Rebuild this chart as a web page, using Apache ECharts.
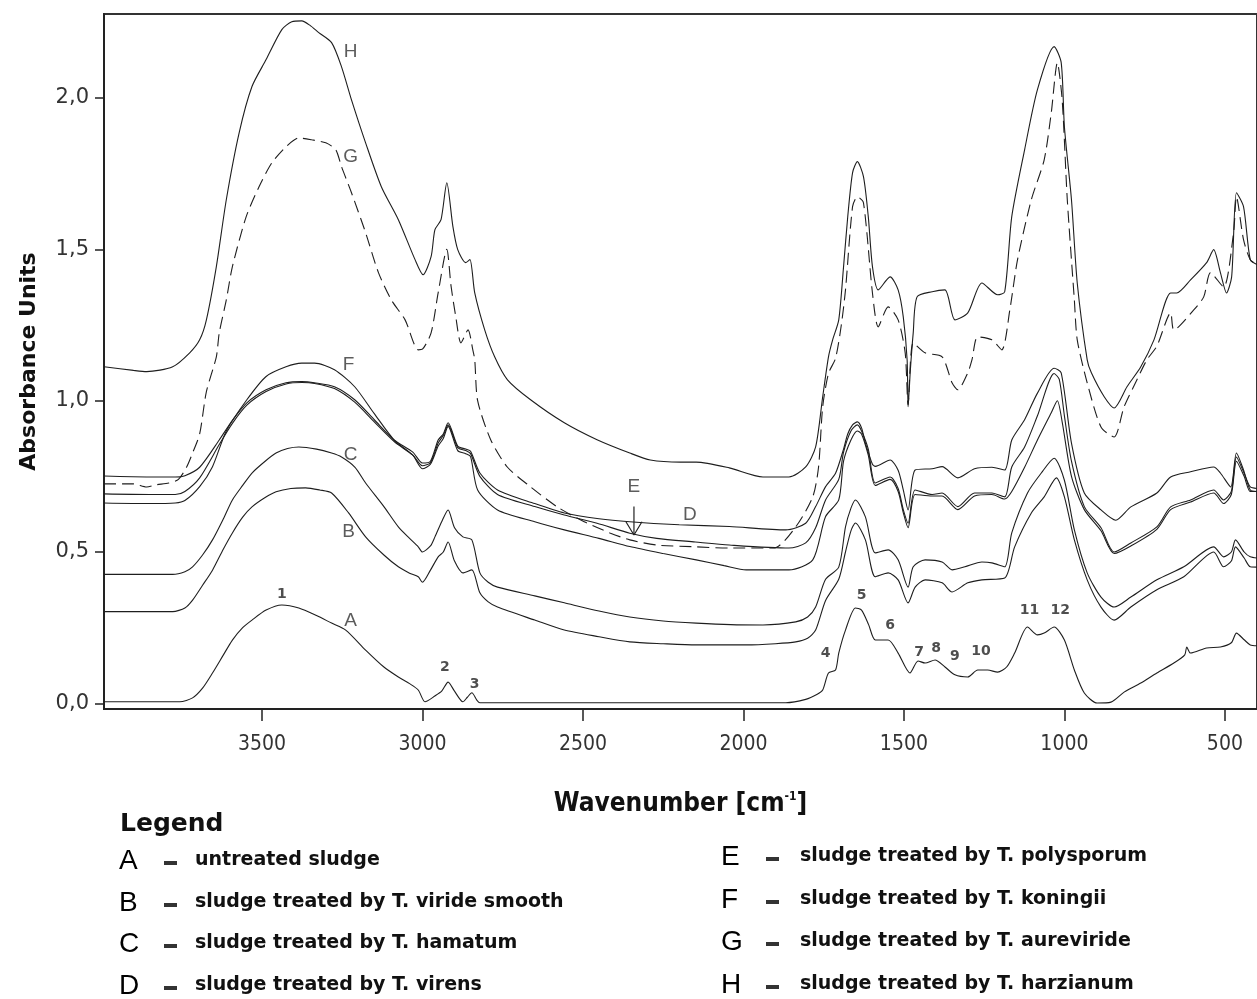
<!DOCTYPE html>
<html><head><meta charset="utf-8">
<script src="https://cdn.jsdelivr.net/npm/echarts@6/dist/echarts.min.js"></script>
<style>html,body{margin:0;padding:0;background:#fff}#c{width:1257px;height:999px}</style>
</head><body><div id="c"></div>
<script>
// ---- axis ticks ----
const xTicks = [3500, 3000, 2500, 2000, 1500, 1000, 500];
const yTicks = [0, 0.5, 1.0, 1.5, 2.0];

// ---- spectra: [wavenumber cm-1, absorbance] ----
const curveA = [[3992,0.005],[3850,0.005],[3756,0.005],[3716,0.018],[3685,0.05],[3654,0.10],[3620,0.16],[3592,0.209],[3560,0.25],[3531,0.275],[3487,0.308],[3438,0.325],[3385,0.315],[3330,0.29],[3283,0.265],[3239,0.242],[3177,0.176],[3120,0.12],[3075,0.087],[3040,0.065],[3013,0.044],[2992,0.005],[2960,0.025],[2940,0.04],[2920,0.07],[2900,0.04],[2874,0.005],[2860,0.02],[2846,0.035],[2830,0.01],[2821,0.002],[2500,0.002],[2000,0.002],[1868,0.002],[1806,0.013],[1770,0.03],[1753,0.044],[1735,0.10],[1713,0.11],[1703,0.166],[1682,0.242],[1651,0.315],[1632,0.308],[1610,0.26],[1589,0.209],[1549,0.209],[1518,0.166],[1481,0.10],[1456,0.14],[1434,0.133],[1403,0.143],[1372,0.12],[1341,0.094],[1301,0.087],[1270,0.11],[1239,0.11],[1208,0.103],[1180,0.12],[1155,0.166],[1115,0.252],[1084,0.226],[1063,0.232],[1032,0.252],[1000,0.209],[969,0.11],[938,0.034],[898,0.001],[855,0.004],[814,0.037],[762,0.067],[712,0.10],[659,0.133],[625,0.16],[619,0.186],[607,0.166],[557,0.183],[514,0.186],[480,0.2],[464,0.232],[440,0.21],[421,0.193],[400,0.19]];
const curveB = [[3992,0.303],[3850,0.303],[3778,0.303],[3740,0.315],[3716,0.341],[3685,0.39],[3654,0.44],[3620,0.51],[3592,0.563],[3560,0.615],[3531,0.649],[3490,0.68],[3456,0.699],[3410,0.71],[3364,0.712],[3320,0.705],[3283,0.695],[3230,0.629],[3177,0.55],[3120,0.49],[3075,0.451],[3040,0.43],[3013,0.418],[3000,0.40],[2975,0.44],[2951,0.484],[2935,0.50],[2920,0.533],[2900,0.47],[2874,0.431],[2846,0.441],[2821,0.365],[2795,0.335],[2766,0.318],[2650,0.275],[2558,0.242],[2450,0.22],[2354,0.203],[2250,0.197],[2147,0.193],[1991,0.193],[1900,0.197],[1837,0.203],[1800,0.215],[1775,0.242],[1744,0.34],[1703,0.41],[1682,0.50],[1665,0.57],[1651,0.596],[1620,0.54],[1589,0.418],[1549,0.431],[1518,0.408],[1487,0.332],[1465,0.384],[1434,0.408],[1381,0.398],[1350,0.368],[1301,0.398],[1257,0.408],[1186,0.414],[1155,0.517],[1103,0.629],[1063,0.682],[1025,0.745],[1000,0.682],[969,0.54],[929,0.408],[886,0.318],[845,0.275],[793,0.318],[712,0.375],[628,0.418],[535,0.50],[504,0.451],[480,0.47],[467,0.517],[440,0.48],[421,0.451],[400,0.45]];
const curveC = [[3992,0.426],[3850,0.426],[3778,0.426],[3740,0.435],[3716,0.451],[3685,0.49],[3654,0.54],[3620,0.61],[3592,0.672],[3560,0.72],[3531,0.761],[3490,0.80],[3456,0.827],[3420,0.842],[3385,0.847],[3330,0.84],[3283,0.827],[3252,0.814],[3210,0.78],[3177,0.728],[3120,0.65],[3075,0.583],[3040,0.545],[3013,0.517],[3000,0.50],[2975,0.52],[2961,0.55],[2940,0.60],[2920,0.639],[2900,0.58],[2874,0.55],[2846,0.54],[2821,0.431],[2795,0.40],[2766,0.384],[2650,0.355],[2558,0.332],[2450,0.305],[2354,0.285],[2250,0.272],[2147,0.265],[2040,0.26],[1939,0.259],[1837,0.269],[1800,0.285],[1775,0.318],[1744,0.41],[1703,0.45],[1682,0.583],[1665,0.645],[1651,0.672],[1620,0.616],[1589,0.497],[1549,0.507],[1518,0.474],[1487,0.384],[1471,0.451],[1434,0.474],[1381,0.467],[1350,0.441],[1310,0.451],[1257,0.467],[1226,0.464],[1186,0.451],[1164,0.563],[1115,0.695],[1072,0.761],[1032,0.81],[1000,0.737],[969,0.573],[929,0.431],[886,0.351],[845,0.318],[793,0.351],[712,0.408],[628,0.451],[535,0.517],[504,0.484],[480,0.50],[467,0.54],[440,0.50],[421,0.484],[400,0.48]];
const curveD = [[3992,0.751],[3850,0.748],[3770,0.748],[3740,0.752],[3694,0.78],[3633,0.87],[3592,0.935],[3547,0.993],[3487,1.036],[3425,1.059],[3376,1.063],[3336,1.059],[3274,1.046],[3211,1.003],[3150,0.937],[3088,0.87],[3030,0.83],[3000,0.794],[2975,0.80],[2951,0.87],[2935,0.89],[2920,0.927],[2890,0.85],[2865,0.84],[2850,0.833],[2821,0.761],[2766,0.705],[2650,0.66],[2558,0.629],[2450,0.61],[2354,0.60],[2200,0.59],[2044,0.584],[1868,0.573],[1806,0.595],[1775,0.65],[1744,0.716],[1713,0.76],[1688,0.84],[1675,0.89],[1660,0.92],[1645,0.93],[1632,0.91],[1620,0.86],[1598,0.79],[1589,0.783],[1543,0.804],[1518,0.77],[1502,0.705],[1487,0.639],[1465,0.771],[1412,0.775],[1381,0.782],[1332,0.745],[1280,0.775],[1226,0.78],[1186,0.771],[1164,0.87],[1124,0.937],[1084,1.025],[1032,1.107],[1010,1.092],[978,0.86],[938,0.695],[886,0.639],[840,0.605],[793,0.649],[712,0.695],[669,0.748],[607,0.765],[535,0.781],[514,0.761],[482,0.715],[464,0.827],[442,0.771],[421,0.705],[400,0.70]];
const curveE = [[3992,0.692],[3850,0.69],[3770,0.69],[3740,0.70],[3694,0.745],[3633,0.855],[3592,0.925],[3547,0.985],[3487,1.03],[3425,1.055],[3376,1.06],[3336,1.057],[3274,1.04],[3211,0.995],[3150,0.93],[3088,0.865],[3030,0.82],[3000,0.785],[2975,0.795],[2951,0.86],[2935,0.885],[2920,0.92],[2890,0.845],[2865,0.835],[2850,0.825],[2821,0.75],[2766,0.69],[2650,0.65],[2558,0.622],[2456,0.595],[2354,0.562],[2270,0.545],[2150,0.533],[2044,0.523],[1858,0.513],[1806,0.53],[1775,0.58],[1744,0.672],[1703,0.74],[1688,0.83],[1665,0.90],[1645,0.92],[1632,0.90],[1611,0.84],[1589,0.728],[1543,0.748],[1518,0.71],[1502,0.64],[1487,0.595],[1465,0.705],[1412,0.69],[1381,0.695],[1332,0.65],[1280,0.695],[1226,0.695],[1186,0.682],[1164,0.781],[1124,0.847],[1084,0.95],[1032,1.09],[1016,1.07],[1000,0.95],[978,0.80],[938,0.65],[886,0.58],[845,0.50],[793,0.53],[712,0.583],[669,0.649],[607,0.672],[535,0.705],[504,0.672],[480,0.70],[464,0.814],[440,0.76],[421,0.715],[400,0.71]];
const curveF = [[3992,0.662],[3850,0.66],[3770,0.662],[3740,0.67],[3694,0.716],[3654,0.782],[3611,0.90],[3547,1.003],[3487,1.08],[3425,1.112],[3376,1.124],[3336,1.124],[3274,1.102],[3211,1.046],[3150,0.957],[3088,0.87],[3030,0.82],[3000,0.775],[2975,0.79],[2951,0.85],[2935,0.875],[2920,0.915],[2890,0.835],[2865,0.825],[2850,0.815],[2828,0.705],[2766,0.639],[2650,0.60],[2558,0.573],[2450,0.545],[2354,0.518],[2250,0.495],[2147,0.474],[2060,0.455],[1991,0.441],[1858,0.441],[1784,0.474],[1744,0.617],[1703,0.672],[1688,0.80],[1665,0.87],[1645,0.90],[1632,0.89],[1611,0.82],[1589,0.72],[1543,0.74],[1518,0.70],[1502,0.63],[1487,0.58],[1465,0.69],[1412,0.685],[1381,0.685],[1332,0.64],[1280,0.685],[1226,0.69],[1186,0.675],[1164,0.70],[1124,0.78],[1084,0.87],[1041,0.96],[1022,1.0],[1007,0.93],[978,0.75],[938,0.64],[886,0.57],[845,0.495],[793,0.52],[712,0.575],[669,0.64],[607,0.665],[535,0.695],[504,0.66],[480,0.69],[464,0.80],[440,0.75],[421,0.70],[400,0.70]];
const curveG = [[3992,0.725],[3900,0.725],[3859,0.715],[3830,0.722],[3790,0.728],[3760,0.74],[3735,0.78],[3715,0.83],[3694,0.89],[3673,1.03],[3642,1.145],[3633,1.224],[3611,1.333],[3592,1.443],[3549,1.608],[3509,1.707],[3469,1.786],[3425,1.839],[3385,1.868],[3345,1.862],[3301,1.852],[3270,1.829],[3252,1.773],[3221,1.687],[3177,1.555],[3137,1.423],[3097,1.333],[3054,1.267],[3013,1.168],[3000,1.17],[2973,1.224],[2951,1.356],[2924,1.50],[2911,1.38],[2896,1.277],[2880,1.191],[2858,1.234],[2843,1.168],[2837,1.135],[2828,1.0],[2787,0.87],[2735,0.78],[2663,0.715],[2580,0.649],[2496,0.60],[2416,0.563],[2354,0.54],[2270,0.523],[2147,0.517],[2044,0.513],[1906,0.513],[1837,0.583],[1784,0.682],[1766,0.78],[1753,0.98],[1735,1.09],[1713,1.14],[1695,1.25],[1682,1.366],[1660,1.641],[1645,1.674],[1626,1.654],[1598,1.356],[1580,1.244],[1549,1.31],[1518,1.267],[1496,1.158],[1487,0.986],[1471,1.191],[1434,1.158],[1381,1.145],[1350,1.059],[1332,1.036],[1301,1.092],[1288,1.135],[1270,1.211],[1226,1.201],[1195,1.168],[1170,1.30],[1146,1.466],[1103,1.664],[1063,1.796],[1041,1.951],[1022,2.117],[1007,1.994],[991,1.664],[969,1.333],[960,1.201],[929,1.059],[886,0.913],[845,0.88],[814,0.98],[774,1.069],[743,1.135],[712,1.18],[669,1.29],[659,1.234],[597,1.30],[566,1.343],[545,1.423],[504,1.376],[473,1.555],[464,1.674],[442,1.532],[421,1.466],[400,1.45]];
const curveH = [[3992,1.112],[3900,1.10],[3859,1.096],[3778,1.112],[3725,1.158],[3694,1.201],[3673,1.267],[3642,1.443],[3611,1.664],[3571,1.885],[3531,2.038],[3487,2.127],[3438,2.226],[3407,2.252],[3376,2.255],[3350,2.24],[3323,2.216],[3283,2.183],[3252,2.103],[3221,1.994],[3177,1.852],[3128,1.707],[3075,1.598],[3023,1.466],[2998,1.416],[2973,1.476],[2961,1.565],[2942,1.598],[2924,1.72],[2905,1.575],[2890,1.499],[2865,1.456],[2852,1.466],[2837,1.356],[2806,1.234],[2775,1.145],[2735,1.069],[2663,1.003],[2558,0.927],[2456,0.871],[2354,0.827],[2290,0.804],[2196,0.797],[2147,0.797],[2044,0.778],[1939,0.748],[1858,0.748],[1806,0.781],[1775,0.847],[1753,1.013],[1735,1.145],[1722,1.201],[1703,1.267],[1688,1.443],[1675,1.608],[1660,1.753],[1645,1.79],[1626,1.74],[1611,1.608],[1598,1.443],[1580,1.366],[1543,1.409],[1518,1.366],[1502,1.277],[1490,1.135],[1487,0.98],[1480,1.10],[1471,1.224],[1459,1.343],[1412,1.36],[1372,1.366],[1341,1.267],[1301,1.29],[1257,1.389],[1208,1.35],[1186,1.36],[1164,1.608],[1124,1.829],[1084,2.028],[1032,2.17],[1010,2.117],[1000,1.905],[978,1.664],[960,1.389],[929,1.135],[916,1.092],[876,1.013],[845,0.976],[805,1.046],[762,1.112],[721,1.201],[669,1.356],[650,1.356],[607,1.399],[557,1.456],[535,1.499],[514,1.423],[495,1.356],[479,1.409],[464,1.687],[442,1.641],[421,1.466],[400,1.45]];

// ---- curve letters and band numbers placed at data coordinates ----
const curveLetters = [['H',3224,2.153],['G',3224,1.806],['F',3230,1.118],['C',3224,0.821],['B',3230,0.566],['A',3224,0.272],['E',2341,0.716],['D',2167,0.622]];
const bandNumbers = [['1',3438,0.361],['2',2930,0.12],['3',2837,0.064],['4',1744,0.166],['5',1632,0.358],['6',1543,0.259],['7',1453,0.170],['8',1400,0.180],['9',1341,0.156],['10',1260,0.173],['11',1109,0.308],['12',1013,0.308]];
const arrowShaft = [[2341,0.65],[2341,0.556]];
const arrowHead = [[2366,0.60],[2341,0.556],[2316,0.60]];

// ---- legend ----
const legendLetters = ['A','B','C','D','E','F','G','H'];
const legendTexts = ['untreated sludge','sludge treated by T. viride smooth','sludge treated by T. hamatum','sludge treated by T. virens','sludge treated by T. polysporum','sludge treated by T. koningii','sludge treated by T. aureviride','sludge treated by T. harzianum'];

const curves = {A:curveA,B:curveB,C:curveC,D:curveD,E:curveE,F:curveF,G:curveG,H:curveH};
const lineColor = '#1e1e1e';
const condensed = "'DejaVu Sans Condensed','Liberation Sans Narrow',sans-serif";
const wide = "'DejaVu Sans',Verdana,sans-serif";

const series = Object.keys(curves).map(k => ({
  type:'line', name:k, data:curves[k], showSymbol:false, symbol:'none', silent:true, smooth:0.25,
  lineStyle:{color:lineColor, width:1.1, type: k==='G' ? [12,6] : 'solid'}, z:3
}));
series.push({
  type:'scatter', symbolSize:1, itemStyle:{color:'rgba(0,0,0,0)'}, silent:true, z:5,
  data: curveLetters.map(d=>({name:d[0], value:[d[1],d[2]]})),
  label:{show:true, position:'inside', formatter:p=>p.name, color:'#333', fontSize:19, fontFamily:"'Liberation Sans',Arial,sans-serif"}
});
series.push({
  type:'scatter', symbolSize:1, itemStyle:{color:'rgba(0,0,0,0)'}, silent:true, z:5,
  data: bandNumbers.map(d=>({name:d[0], value:[d[1],d[2]]})),
  label:{show:true, position:'inside', formatter:p=>p.name, color:'#222', fontSize:14, fontWeight:'bold', fontFamily:wide}
});
series.push({type:'line', data:arrowShaft, symbol:'none', silent:true, lineStyle:{color:'#222', width:1.2}, z:4});
series.push({type:'line', data:arrowHead, symbol:'none', silent:true, lineStyle:{color:'#222', width:1.2}, z:4});

const graphics = [{type:'text', left:120, top:812, style:{text:'Legend', font:"bold 25px 'DejaVu Sans',sans-serif", fill:'#111'}}];
const rowYLeft = [862, 904, 945, 987];
const rowYRight = [858, 901, 943, 986];
legendLetters.forEach((L,i)=>{
  const right = i >= 4;
  const y = right ? rowYRight[i-4] : rowYLeft[i];
  const lx = right ? 721 : 119;
  const dx = right ? 766 : 164;
  const tx = right ? 800 : 195;
  graphics.push({type:'text', left:lx, top:y-15, style:{text:L, font:"28px 'Liberation Sans',Arial,sans-serif", fill:'#000'}});
  graphics.push({type:'rect', shape:{x:dx, y:y-1, width:13, height:4}, style:{fill:'#333'}});
  graphics.push({type:'text', left:tx, top:y-11, style:{text:legendTexts[i], font:"bold 19px 'DejaVu Sans',sans-serif", fill:'#111'}});
});

const chart = echarts.init(document.getElementById('c'), null, {renderer:'canvas'});
chart.setOption({
  animation:false,
  backgroundColor:'#fff',
  grid:{left:104, right:-7, top:14, bottom:290, show:true, borderColor:'#333', borderWidth:2, backgroundColor:'transparent'},
  xAxis:{
    type:'value', inverse:true, min:400, max:3992,
    axisLine:{show:true, onZero:false, lineStyle:{color:'#222', width:2}},
    axisTick:{show:true, customValues:xTicks, length:12, lineStyle:{color:'#222', width:1.5}},
    axisLabel:{customValues:xTicks, margin:25, fontSize:21, color:'#333', fontFamily:condensed, formatter:v=>String(v)},
    splitLine:{show:false},
    name:'Wavenumber [cm{sup|-1}]', nameLocation:'middle', nameGap:82,
    nameTextStyle:{fontSize:26, fontWeight:'bold', color:'#111', fontFamily:condensed,
      rich:{sup:{fontSize:12, fontWeight:'bold', color:'#111', verticalAlign:'top', padding:[0,0,12,0], fontFamily:condensed}}}
  },
  yAxis:{
    type:'value', min:-0.0188, max:2.2777,
    axisLine:{show:true, onZero:false, lineStyle:{color:'#222', width:2}},
    axisTick:{show:true, customValues:yTicks, length:9, lineStyle:{color:'#222', width:1.5}},
    axisLabel:{customValues:yTicks, margin:15, fontSize:21, color:'#333', fontFamily:wide,
      formatter:v=>v.toFixed(1).replace('.',',')},
    splitLine:{show:false},
    name:'Absorbance Units', nameLocation:'middle', nameRotate:90, nameGap:64,
    nameTextStyle:{fontSize:22, fontWeight:'bold', color:'#111', fontFamily:wide}
  },
  graphic:graphics,
  series:series
});
</script>
</body></html>
